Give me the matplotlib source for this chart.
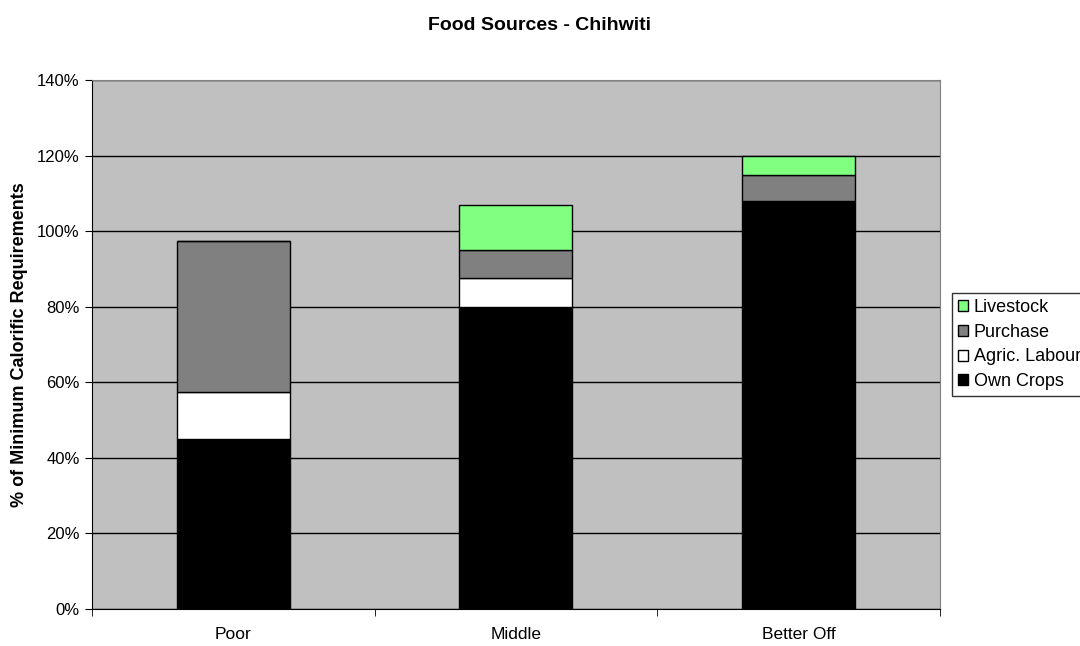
import matplotlib.pyplot as plt
import numpy as np
from matplotlib.patches import Patch
from matplotlib.ticker import PercentFormatter

plt.rcParams['font.family'] = ['Liberation Sans', 'DejaVu Sans']

groups = ['Poor', 'Middle', 'Better Off']
own_crops = [45, 80, 108]
agric_labour = [12.5, 7.5, 0]
purchase = [40, 7.5, 7]
livestock = [0, 12, 5]

series = [
    ('Own Crops', own_crops, '#000000'),
    ('Agric. Labour', agric_labour, '#FFFFFF'),
    ('Purchase', purchase, '#808080'),
    ('Livestock', livestock, '#80FF80'),
]

fig = plt.figure(figsize=(10.8, 6.46), dpi=100)
ax = fig.add_axes([0.0852, 0.0577, 0.785, 0.818])
ax.set_facecolor('#C0C0C0')

x = np.arange(len(groups))
bottom = np.zeros(len(groups))
for name, vals, col in series:
    vals = np.array(vals, dtype=float)
    ax.bar(x, vals, width=0.4, bottom=bottom, color=col,
           edgecolor='black', linewidth=1.0, zorder=3)
    bottom += vals

ax.set_xlim(-0.5, len(groups) - 0.5)
ax.set_ylim(0, 140)
ax.set_yticks(np.arange(0, 141, 20))
ax.yaxis.set_major_formatter(PercentFormatter(decimals=0))
ax.yaxis.grid(True, color='black', linewidth=1.0, zorder=1)

ax.set_xticks(x)
ax.set_xticklabels(groups)
ax.set_xticks(np.arange(-0.5, len(groups)), minor=True)
ax.tick_params(axis='x', which='major', length=0, pad=13, labelsize=12.5)
ax.tick_params(axis='x', which='minor', length=5, direction='out')
ax.tick_params(axis='y', length=5, direction='out', labelsize=12, pad=4)

for s in ['top', 'right']:
    ax.spines[s].set_color('#808080')
for s in ['left', 'bottom']:
    ax.spines[s].set_color('black')

ax.set_ylabel('% of Minimum Calorific Requirements', fontsize=13,
              fontweight='bold', labelpad=6)
fig.text(0.5, 1 - 26 / 646, 'Food Sources - Chihwiti', ha='center',
         va='center', fontsize=14, fontweight='bold')

handles = [Patch(facecolor=col, edgecolor='black', label=name)
           for name, vals, col in reversed(series)]
fig.legend(handles=handles, loc='upper left',
           bbox_to_anchor=(952 / 1080, 1 - 293 / 646),
           frameon=True, fancybox=False, edgecolor='black',
           fontsize=13, handlelength=0.55, handleheight=0.55,
           handletextpad=0.3, labelspacing=0.42, borderpad=0.35,
           borderaxespad=0)

fig.savefig('out.png', dpi=100)
